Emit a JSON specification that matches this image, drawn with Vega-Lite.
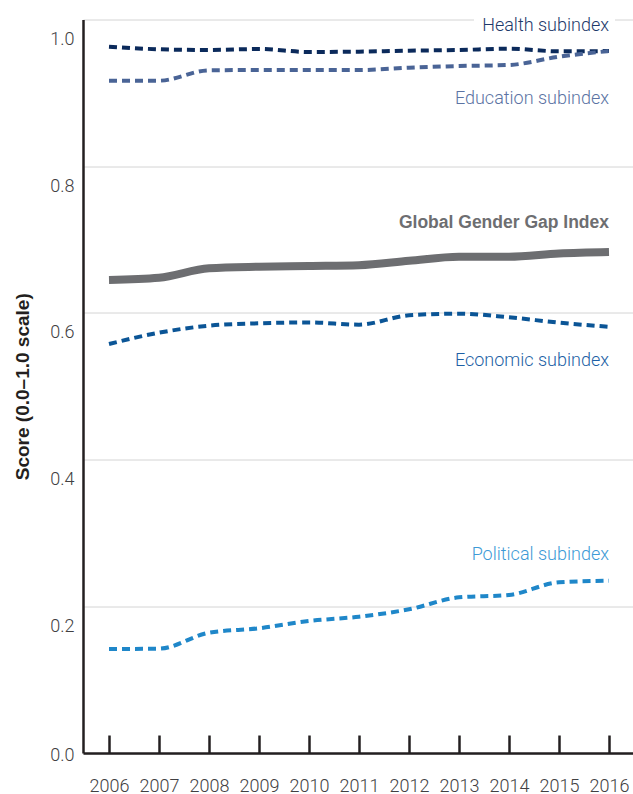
{
  "$schema": "https://vega.github.io/schema/vega-lite/v6.json",
  "autosize": {"type": "none"},
  "width": 550,
  "height": 733.5,
  "padding": {"left": 83, "top": 19.5, "right": 0, "bottom": 41},
  "background": "white",
  "datasets": {
    "series": [
      {"series": "Health subindex", "year": 2006, "score": 0.963},
      {"series": "Health subindex", "year": 2007, "score": 0.9594},
      {"series": "Health subindex", "year": 2008, "score": 0.9584},
      {"series": "Health subindex", "year": 2009, "score": 0.9598},
      {"series": "Health subindex", "year": 2010, "score": 0.9557},
      {"series": "Health subindex", "year": 2011, "score": 0.9562},
      {"series": "Health subindex", "year": 2012, "score": 0.9575},
      {"series": "Health subindex", "year": 2013, "score": 0.9584},
      {"series": "Health subindex", "year": 2014, "score": 0.9602},
      {"series": "Health subindex", "year": 2015, "score": 0.9566},
      {"series": "Health subindex", "year": 2016, "score": 0.957},
      {"series": "Education subindex", "year": 2006, "score": 0.9166},
      {"series": "Education subindex", "year": 2007, "score": 0.9166},
      {"series": "Education subindex", "year": 2008, "score": 0.9307},
      {"series": "Education subindex", "year": 2009, "score": 0.9311},
      {"series": "Education subindex", "year": 2010, "score": 0.9311},
      {"series": "Education subindex", "year": 2011, "score": 0.9311},
      {"series": "Education subindex", "year": 2012, "score": 0.9343},
      {"series": "Education subindex", "year": 2013, "score": 0.9366},
      {"series": "Education subindex", "year": 2014, "score": 0.938},
      {"series": "Education subindex", "year": 2015, "score": 0.9493},
      {"series": "Education subindex", "year": 2016, "score": 0.957},
      {"series": "Global Gender Gap Index", "year": 2006, "score": 0.6449},
      {"series": "Global Gender Gap Index", "year": 2007, "score": 0.648},
      {"series": "Global Gender Gap Index", "year": 2008, "score": 0.6608},
      {"series": "Global Gender Gap Index", "year": 2009, "score": 0.663},
      {"series": "Global Gender Gap Index", "year": 2010, "score": 0.664},
      {"series": "Global Gender Gap Index", "year": 2011, "score": 0.665},
      {"series": "Global Gender Gap Index", "year": 2012, "score": 0.671},
      {"series": "Global Gender Gap Index", "year": 2013, "score": 0.6766},
      {"series": "Global Gender Gap Index", "year": 2014, "score": 0.6766},
      {"series": "Global Gender Gap Index", "year": 2015, "score": 0.681},
      {"series": "Global Gender Gap Index", "year": 2016, "score": 0.683},
      {"series": "Economic subindex", "year": 2006, "score": 0.5576},
      {"series": "Economic subindex", "year": 2007, "score": 0.573},
      {"series": "Economic subindex", "year": 2008, "score": 0.5826},
      {"series": "Economic subindex", "year": 2009, "score": 0.5858},
      {"series": "Economic subindex", "year": 2010, "score": 0.587},
      {"series": "Economic subindex", "year": 2011, "score": 0.584},
      {"series": "Economic subindex", "year": 2012, "score": 0.5967},
      {"series": "Economic subindex", "year": 2013, "score": 0.599},
      {"series": "Economic subindex", "year": 2014, "score": 0.594},
      {"series": "Economic subindex", "year": 2015, "score": 0.5867},
      {"series": "Economic subindex", "year": 2016, "score": 0.581},
      {"series": "Political subindex", "year": 2006, "score": 0.1418},
      {"series": "Political subindex", "year": 2007, "score": 0.1422},
      {"series": "Political subindex", "year": 2008, "score": 0.164},
      {"series": "Political subindex", "year": 2009, "score": 0.17},
      {"series": "Political subindex", "year": 2010, "score": 0.18},
      {"series": "Political subindex", "year": 2011, "score": 0.1858},
      {"series": "Political subindex", "year": 2012, "score": 0.1959},
      {"series": "Political subindex", "year": 2013, "score": 0.2122},
      {"series": "Political subindex", "year": 2014, "score": 0.2154},
      {"series": "Political subindex", "year": 2015, "score": 0.2327},
      {"series": "Political subindex", "year": 2016, "score": 0.2349}
    ],
    "labels": [
      {"series": "Health subindex", "year": 2016, "score": 0.9843},
      {"series": "Education subindex", "year": 2016, "score": 0.8848},
      {"series": "Global Gender Gap Index", "year": 2016, "score": 0.7157},
      {"series": "Economic subindex", "year": 2016, "score": 0.5276},
      {"series": "Political subindex", "year": 2016, "score": 0.2631}
    ],
    "gap": [
      {"x1": 2013.3, "x2": 2016.12, "y1": 0.978, "y2": 1.012}
    ]
  },
  "layer": [
    {
      "data": {"name": "gap"},
      "mark": {"type": "rect", "fill": "white", "stroke": null},
      "encoding": {
        "x": {
          "field": "x1", "type": "quantitative",
          "scale": {"domain": [2005.48, 2016.48], "nice": false, "zero": false},
          "axis": {
            "values": [2006, 2007, 2008, 2009, 2010, 2011, 2012, 2013, 2014, 2015, 2016],
            "format": "d",
            "title": null,
            "grid": false,
            "domainColor": "#231f20",
            "domainWidth": 2.5,
            "tickColor": "#231f20",
            "tickWidth": 2.5,
            "tickSize": -18,
            "labelPadding": 42,
            "labelFont": "Roboto",
            "labelFontSize": 18,
            "labelFontWeight": 300,
            "labelColor": "#414042",
            "labelFlush": false,
            "labelOverlap": false
          }
        },
        "x2": {"field": "x2"},
        "y": {
          "field": "y1", "type": "quantitative",
          "scale": {"domain": [0, 1], "nice": false},
          "axis": {
            "values": [0, 0.2, 0.4, 0.6, 0.8, 1.0],
            "format": ".1f",
            "title": "Score (0.0–1.0 scale)",
            "titleFont": "Liberation Sans",
            "titleFontSize": 19,
            "titleFontWeight": "bold",
            "titleColor": "#231f20",
            "titlePadding": 17,
            "grid": true,
            "gridColor": "#d4d4d4",
            "gridWidth": 1,
            "ticks": false,
            "domainColor": "#231f20",
            "domainWidth": 2.5,
            "labelPadding": 9,
            "labelFont": "Roboto",
            "labelFontSize": 18,
            "labelFontWeight": 300,
            "labelColor": "#414042",
            "labelOffset": {"condition": {"test": "datum.value === 0", "value": 2}, "value": 20},
            "labelOverlap": false
          }
        },
        "y2": {"field": "y2"}
      }
    },
    {
      "data": {"name": "series"},
      "transform": [{"filter": "datum.series !== 'Global Gender Gap Index'"}],
      "mark": {"type": "line", "strokeDash": [8, 5], "strokeWidth": 4, "interpolate": "monotone"},
      "encoding": {
        "x": {"field": "year", "type": "quantitative"},
        "y": {"field": "score", "type": "quantitative"},
        "color": {
          "field": "series", "type": "nominal", "legend": null,
          "scale": {
            "domain": ["Health subindex", "Education subindex", "Global Gender Gap Index", "Economic subindex", "Political subindex"],
            "range": ["#0b2a5b", "#4a6496", "#6d6e71", "#0b5596", "#1f87c9"]
          }
        }
      }
    },
    {
      "data": {"name": "series"},
      "transform": [{"filter": "datum.series === 'Global Gender Gap Index'"}],
      "mark": {"type": "line", "strokeWidth": 8, "color": "#6d6e71", "interpolate": "monotone"},
      "encoding": {
        "x": {"field": "year", "type": "quantitative"},
        "y": {"field": "score", "type": "quantitative"}
      }
    },
    {
      "data": {"name": "labels"},
      "transform": [{"filter": "datum.series !== 'Global Gender Gap Index'"}],
      "mark": {"type": "text", "align": "right", "baseline": "alphabetic", "fontSize": 18, "font": "Roboto", "fontWeight": 300},
      "encoding": {
        "x": {"field": "year", "type": "quantitative"},
        "y": {"field": "score", "type": "quantitative"},
        "text": {"field": "series"},
        "color": {
          "field": "series", "type": "nominal", "legend": null,
          "scale": {
            "domain": ["Health subindex", "Education subindex", "Economic subindex", "Political subindex"],
            "range": ["#1e3a6b", "#5b73a3", "#1d5fa5", "#3d9ad6"]
          }
        }
      }
    },
    {
      "data": {"name": "labels"},
      "transform": [{"filter": "datum.series === 'Global Gender Gap Index'"}],
      "mark": {"type": "text", "align": "right", "baseline": "alphabetic", "fontSize": 17.5, "font": "Liberation Sans", "fontWeight": "bold", "color": "#6d6e71"},
      "encoding": {
        "x": {"field": "year", "type": "quantitative"},
        "y": {"field": "score", "type": "quantitative"},
        "text": {"field": "series"}
      }
    }
  ],
  "resolve": {"scale": {"color": "independent"}},
  "config": {
    "view": {"stroke": null},
    "font": "Roboto"
  }
}
